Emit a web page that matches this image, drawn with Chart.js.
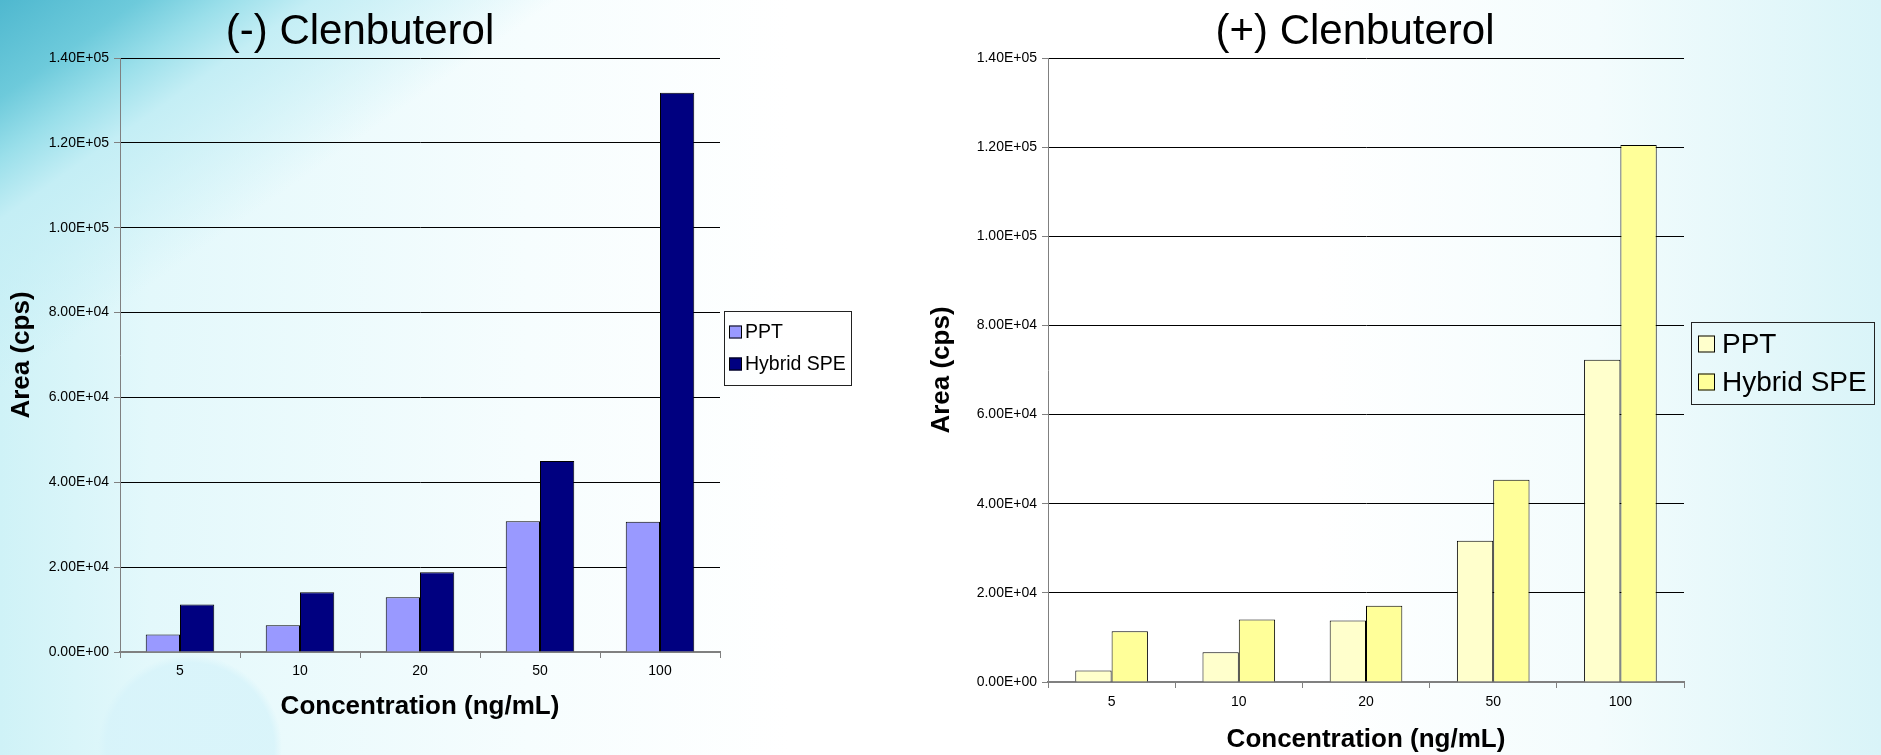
<!DOCTYPE html>
<html>
<head>
<meta charset="utf-8">
<title>Clenbuterol: PPT vs Hybrid SPE</title>
<script src="https://cdn.jsdelivr.net/npm/chart.js@4.4.1/dist/chart.umd.min.js"></script>
<style>
    html, body {
        margin: 0;
        padding: 0;
        width: 1881px;
        height: 755px;
        overflow: hidden;
    }
    body {
        position: relative;
        background:
            radial-gradient(circle at 190px 747px, rgba(214, 243, 250, 0.8) 0, rgba(214, 243, 250, 0.8) 84px, rgba(214, 243, 250, 0) 92px),
            linear-gradient(145deg, #4fb8cf 0px, #6dcadb 80px, #9adfea 130px, #c4eef5 180px, rgba(215, 245, 250, 0) 320px),
            linear-gradient(90deg, #cff2f7 0%, #e3f8fb 8%, #f6fdfe 28%, #ffffff 42%, #ffffff 70%, #f3fcfd 85%, #d9f4f8 100%);
    }
    canvas {
        position: absolute;
        top: 0;
    }
    #minusChart { left: 0; }
    #plusChart { left: 910px; }
</style>
</head>
<body>
<canvas id="minusChart" width="910" height="755"></canvas>
<canvas id="plusChart" width="971" height="755"></canvas>
<script>
// Data
const concentrations = ['5', '10', '20', '50', '100'];
const seriesNames = ['PPT', 'Hybrid SPE'];

const minusPPT = [4100, 6300, 12900, 30800, 30700];
const minusHybrid = [11200, 14100, 18800, 45000, 131800];

const plusPPT = [2600, 6700, 13800, 31700, 72300];
const plusHybrid = [11400, 14000, 17100, 45400, 120500];

const yTickLabels = ['0.00E+00', '2.00E+04', '4.00E+04', '6.00E+04', '8.00E+04', '1.00E+05', '1.20E+05', '1.40E+05'];

Chart.defaults.font.family = '"Liberation Sans", Arial, sans-serif';
Chart.defaults.color = '#000';

// Excel style legend: boxed, to the right of the plot
const boxedLegend = {
    id: 'boxedLegend',
    afterDraw(chart, args, opts) {
        const ctx = chart.ctx;
        const area = chart.chartArea;
        const datasets = chart.data.datasets;
        ctx.save();
        ctx.font = opts.fontSize + 'px "Liberation Sans", Arial, sans-serif';
        let textW = 0;
        datasets.forEach(ds => { textW = Math.max(textW, ctx.measureText(ds.label).width); });
        const pad = opts.pad, sq = opts.box, gap = opts.gap, rowH = opts.rowH;
        const w = Math.round(pad + sq + gap + textW + pad);
        const h = rowH * datasets.length + 2 * opts.padY;
        const x = Math.round(area.right + opts.offset);
        const y = Math.round((area.top + area.bottom) / 2 - 7 - h / 2);
        ctx.strokeStyle = '#222';
        ctx.lineWidth = 1;
        ctx.strokeRect(x + 0.5, y + 0.5, w, h);
        datasets.forEach((ds, i) => {
            const cy = Math.round(y + opts.padY + rowH * i + rowH / 2);
            ctx.fillStyle = ds.backgroundColor;
            ctx.fillRect(x + pad, cy - sq / 2, sq, sq);
            ctx.strokeStyle = '#000';
            ctx.strokeRect(x + pad + 0.5, cy - sq / 2 + 0.5, sq - 1, sq - 1);
            ctx.fillStyle = '#000';
            ctx.textBaseline = 'middle';
            ctx.fillText(ds.label, x + pad + sq + gap, cy + 1);
        });
        ctx.restore();
    }
};

// nudges the chart title sideways, as it sits on the slide
const titleNudge = {
    id: 'titleNudge',
    afterLayout(chart, args, opts) {
        const t = chart.titleBlock;
        if (t && opts.dx) {
            t.left += opts.dx;
            t.right += opts.dx;
        }
    }
};

function makeChart(canvasId, titleText, pptValues, hybridValues, colors, lay) {
    return new Chart(document.getElementById(canvasId), {
        type: 'bar',
        data: {
            labels: concentrations,
            datasets: [{
                label: seriesNames[0],
                data: pptValues,
                backgroundColor: colors[0],
                borderColor: '#000',
                borderWidth: 1
            }, {
                label: seriesNames[1],
                data: hybridValues,
                backgroundColor: colors[1],
                borderColor: '#000',
                borderWidth: 1
            }]
        },
        options: {
            responsive: false,
            animation: false,
            layout: {
                padding: { left: 0, right: lay.padRight, top: 0, bottom: lay.padBottom }
            },
            datasets: {
                bar: { barPercentage: 1.0, categoryPercentage: 0.571 }
            },
            plugins: {
                legend: { display: false },
                tooltip: { enabled: false },
                title: {
                    display: true,
                    text: titleText,
                    fullSize: lay.titleFull,
                    color: '#000',
                    font: { size: 42, weight: 'normal' },
                    padding: { top: 7, bottom: 0.6 }
                },
                titleNudge: { dx: lay.titleDx },
                boxedLegend: lay.legend
            },
            scales: {
                x: {
                    grid: {
                        display: true,
                        drawOnChartArea: false,
                        offset: true,
                        tickLength: 6,
                        tickColor: '#808080'
                    },
                    border: { color: '#808080', width: 2 },
                    ticks: { font: { size: 14 }, color: '#000', padding: lay.xTickPad, maxRotation: 0 },
                    title: {
                        display: true,
                        text: 'Concentration (ng/mL)',
                        color: '#000',
                        font: { size: 26, weight: 'bold' },
                        padding: { top: 0, bottom: lay.xTitlePad }
                    },
                    afterFit(scale) { scale.height = lay.xAxisH; }
                },
                y: {
                    min: 0,
                    max: 140000,
                    ticks: {
                        stepSize: 20000,
                        font: { size: 14 },
                        color: '#000',
                        padding: 5,
                        callback: (value, index) => yTickLabels[index]
                    },
                    grid: {
                        color: c => c.index === 0 ? 'rgba(0,0,0,0)' : '#000',
                        tickColor: '#808080',
                        tickLength: 6,
                        lineWidth: 1
                    },
                    border: { color: '#808080', width: 1 },
                    title: {
                        display: true,
                        text: 'Area (cps)',
                        color: '#000',
                        font: { size: 26, weight: 'bold' },
                        padding: { top: lay.yTitlePad, bottom: 0 }
                    },
                    afterFit(scale) { scale.width = lay.yAxisW; }
                }
            }
        },
        plugins: [boxedLegend, titleNudge]
    });
}

makeChart('minusChart', '(-) Clenbuterol', minusPPT, minusHybrid, ['#9999FF', '#000080'], {
    padRight: 190, padBottom: 23, xAxisH: 80, xTickPad: 5, xTitlePad: 9.4,
    yAxisW: 120, yTitlePad: 6.4, titleFull: true, titleDx: 0,
    legend: { fontSize: 19.5, rowH: 32, box: 13, gap: 3, pad: 5, padY: 5, offset: 4 }
});

makeChart('plusChart', '(+) Clenbuterol', plusPPT, plusHybrid, ['#FFFFCC', '#FFFF99'], {
    padRight: 197, padBottom: 0, xAxisH: 73, xTickPad: 6, xTitlePad: 0,
    yAxisW: 138, yTitlePad: 16.4, titleFull: false, titleDx: -11,
    legend: { fontSize: 28, rowH: 38, box: 17, gap: 7, pad: 7, padY: 3, offset: 7 }
});
</script>
</body>
</html>
